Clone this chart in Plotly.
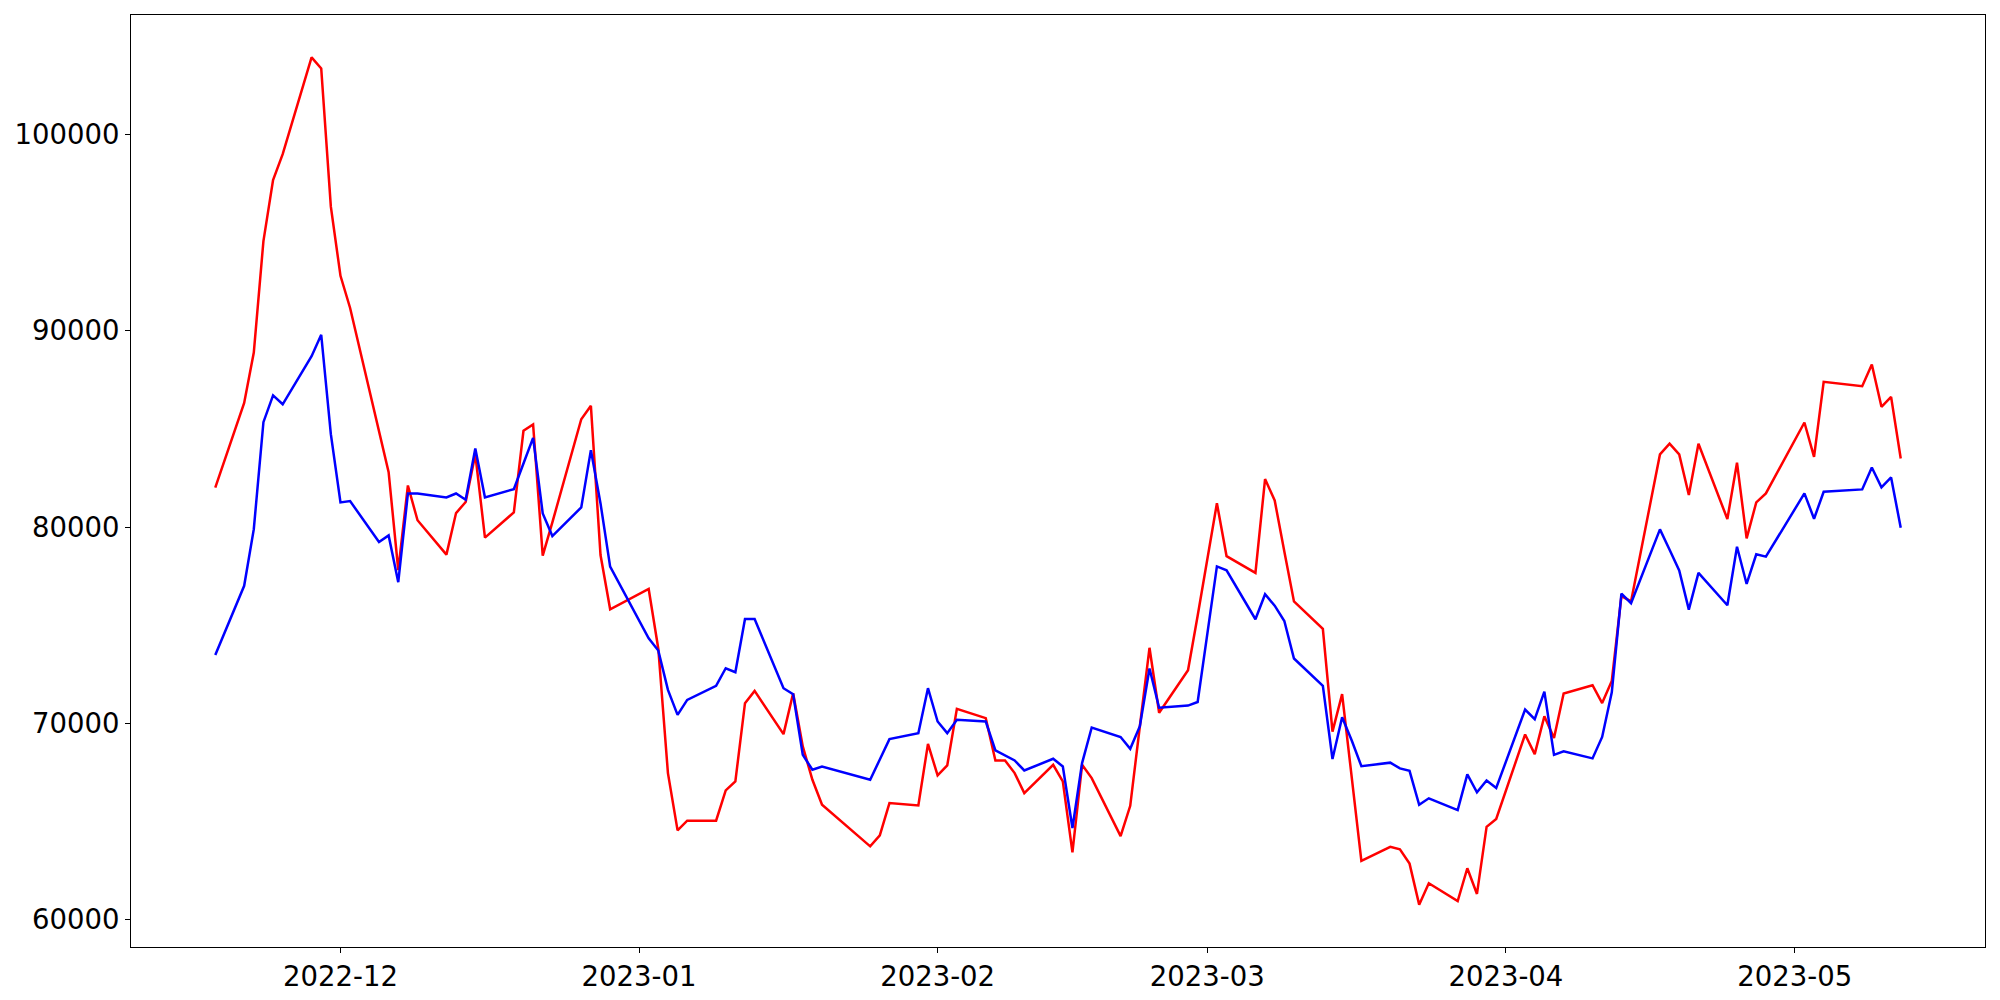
import plotly.graph_objects as go

dates = [
    "2022-11-18", "2022-11-21", "2022-11-22", "2022-11-23", "2022-11-24", "2022-11-25",
    "2022-11-28", "2022-11-29", "2022-11-30", "2022-12-01", "2022-12-02",
    "2022-12-05", "2022-12-06", "2022-12-07", "2022-12-08", "2022-12-09",
    "2022-12-12", "2022-12-13", "2022-12-14", "2022-12-15", "2022-12-16",
    "2022-12-19", "2022-12-20", "2022-12-21", "2022-12-22", "2022-12-23",
    "2022-12-26", "2022-12-27", "2022-12-28", "2022-12-29",
    "2023-01-02", "2023-01-03", "2023-01-04", "2023-01-05", "2023-01-06",
    "2023-01-09", "2023-01-10", "2023-01-11", "2023-01-12", "2023-01-13",
    "2023-01-16", "2023-01-17", "2023-01-18", "2023-01-19", "2023-01-20",
    "2023-01-25", "2023-01-26", "2023-01-27", "2023-01-30", "2023-01-31",
    "2023-02-01", "2023-02-02", "2023-02-03", "2023-02-06", "2023-02-07",
    "2023-02-08", "2023-02-09", "2023-02-10", "2023-02-13", "2023-02-14",
    "2023-02-15", "2023-02-16", "2023-02-17", "2023-02-20", "2023-02-21",
    "2023-02-22", "2023-02-23", "2023-02-24", "2023-02-27", "2023-02-28",
    "2023-03-02", "2023-03-03", "2023-03-06", "2023-03-07", "2023-03-08",
    "2023-03-09", "2023-03-10", "2023-03-13", "2023-03-14", "2023-03-15",
    "2023-03-16", "2023-03-17", "2023-03-20", "2023-03-21", "2023-03-22",
    "2023-03-23", "2023-03-24", "2023-03-27", "2023-03-28", "2023-03-29",
    "2023-03-30", "2023-03-31", "2023-04-03", "2023-04-04", "2023-04-05",
    "2023-04-06", "2023-04-07", "2023-04-10", "2023-04-11", "2023-04-12",
    "2023-04-13", "2023-04-14", "2023-04-17", "2023-04-18", "2023-04-19",
    "2023-04-20", "2023-04-21", "2023-04-24", "2023-04-25", "2023-04-26",
    "2023-04-27", "2023-04-28", "2023-05-02", "2023-05-03", "2023-05-04",
    "2023-05-08", "2023-05-09", "2023-05-10", "2023-05-11", "2023-05-12",
]

red_values = [
    82005, 86321, 88890, 94570, 97679, 98997,
    103929, 103364, 96321, 92799, 91160,
    84845, 82799, 77802, 82117, 80346,
    78596, 80713, 81277, 83710, 79461,
    80748, 84903, 85225, 78542, 80238,
    85496, 86175, 78575, 75810,
    76845, 73800, 67465, 64547, 65039,
    65039, 66582, 67041, 71027, 71655,
    69449, 71536, 68822, 67125, 65853,
    63733, 64293, 65938, 65819, 68957,
    67346, 67855, 70738, 70264, 68109,
    68109, 67465, 66447, 67889, 67041,
    63427, 67889, 67210, 64253, 65798,
    69851, 73850, 70542, 72705, 75485,
    81211, 78521, 77666, 82447, 81356,
    78757, 76212, 74813, 69579, 71487,
    67252, 62999, 63708, 63581, 62854,
    60764, 61854, 60945, 62618, 61309,
    64726, 65126, 69433, 68434, 70360,
    69251, 71523, 71941, 71033, 72159,
    76485, 76212, 83701, 84246, 83701,
    81629, 84246, 80408, 83275, 79424,
    81256, 81714, 85327, 83580, 87397,
    87176, 88279, 86125, 86633, 83495,
]

blue_values = [
    73486, 77008, 79893, 85344, 86708, 86255,
    88707, 89797, 84733, 81257, 81323,
    79237, 79573, 77191, 81710, 81710,
    81506, 81710, 81395, 84005, 81506,
    81934, 83240, 84546, 80696, 79542,
    81001, 83919, 81205, 77982,
    74335, 73707, 71705, 70433, 71197,
    71909, 72808, 72604, 75319, 75319,
    71790, 71485, 68398, 67634, 67804,
    67125, 68160, 69195, 69500, 71790,
    70094, 69500, 70179, 70094, 68618,
    68347, 68109, 67600, 68194, 67804,
    64666, 67974, 69789, 69306, 68706,
    69851, 72796, 70796, 70905, 71087,
    77994, 77794, 75304, 76576, 75994,
    75213, 73304, 71905, 68179, 70306,
    69124, 67816, 67997, 67707, 67579,
    65853, 66180, 65580, 67398, 66489,
    67089, 66707, 70705, 70215, 71614,
    68397, 68579, 68215, 69306, 71578,
    76612, 76122, 79884, 78848, 77794,
    75794, 77666, 76015, 79000, 77100,
    78610, 78491, 81714, 80425, 81799,
    81918, 83037, 82020, 82528, 79967,
]

y_ticks = [60000, 70000, 80000, 90000, 100000]
x_ticks = ["2022-12-01", "2023-01-01", "2023-02-01", "2023-03-01", "2023-04-01", "2023-05-01"]
x_tick_labels = ["2022-12", "2023-01", "2023-02", "2023-03", "2023-04", "2023-05"]

fig = go.Figure()
fig.add_trace(go.Scatter(x=dates, y=red_values, mode="lines",
                         line=dict(color="#ff0000", width=2.5), showlegend=False))
fig.add_trace(go.Scatter(x=dates, y=blue_values, mode="lines",
                         line=dict(color="#0000ff", width=2.5), showlegend=False))

font = dict(family="DejaVu Sans", size=27.5, color="black")

fig.update_layout(
    width=2000, height=1000,
    margin=dict(l=123, r=23, t=7, b=61, autoexpand=False),
    paper_bgcolor="white", plot_bgcolor="white",
    font=font,
    xaxis=dict(
        type="date",
        range=["2022-11-09 06:00", "2023-05-20 18:00"],
        tickvals=x_ticks, ticktext=x_tick_labels,
        showgrid=False, zeroline=False, automargin=False,
        showline=True, mirror=True, linecolor="black", linewidth=1.1,
        ticks="outside", ticklen=5, tickwidth=1.1, tickcolor="black",
        tickfont=font,
    ),
    yaxis=dict(
        range=[58606, 106087],
        tickvals=y_ticks, ticktext=[str(v) for v in y_ticks],
        showgrid=False, zeroline=False, automargin=False,
        showline=True, mirror=True, linecolor="black", linewidth=1.1,
        ticks="outside", ticklen=5, tickwidth=1.1, tickcolor="black",
        tickfont=font,
    ),
)

fig.write_html("out.html")
